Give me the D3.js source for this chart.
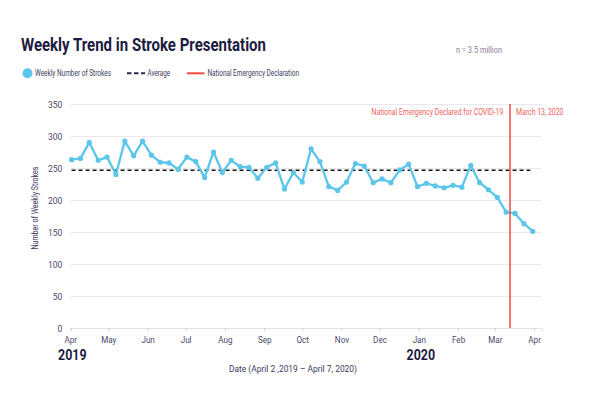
<!DOCTYPE html>
<html>
<head>
<meta charset="utf-8">
<script src="https://cdn.jsdelivr.net/npm/d3@7"></script>
<style>
  html, body { margin: 0; padding: 0; background: #fff; }
  svg { display: block; font-family: Roboto, "Noto Sans", sans-serif; }
</style>
</head>
<body>
<svg id="chart" width="590" height="393"></svg>
<script>
// ---------- data ----------
const startDate = "2019-04-02";        // first weekly observation
const weeklyStrokes = [
  263, 265, 290, 262, 267, 240, 292, 269, 292, 270,
  259, 258, 248, 267, 260, 235, 275, 243, 262, 252,
  251, 234, 251, 258, 217, 243, 228, 280, 260, 221,
  215, 228, 257, 253, 227, 233, 227, 247, 256, 221,
  226, 222, 219, 223, 220, 254, 227, 216, 204, 181,
  179, 163, 151
];
const averageValue = 246.5;
const emergencyDate = "2020-03-13";
const yTicks = [0, 50, 100, 150, 200, 250, 300, 350];
const yearLabels = [{ year: "2019", date: "2019-04-01" }, { year: "2020", date: "2020-01-01" }];
const domainDates = ["2019-04-01", "2020-04-07"];
const averageRange = ["2019-04-02", "2020-03-29"];

// ---------- setup ----------
const parse = d3.utcParse("%Y-%m-%d");
const t0 = parse(startDate);
const points = weeklyStrokes.map((v, i) => ({ date: d3.utcDay.offset(t0, i * 7), value: v }));

const svg = d3.select("#chart");
const W = 590, H = 393;
const margin = { left: 70.3, right: 48.3, top: 104, bottom: 65 };

const x = d3.scaleUtc().domain(domainDates.map(parse)).range([margin.left, W - margin.right]);
const y = d3.scaleLinear().domain([0, 350]).range([H - margin.bottom, margin.top]);

const navy = "#1c1b40";
const axisText = "#4a4868";
const blue = "#5bc6e9";
const red = "#ee4a42";

function fit(sel, w) {
  sel.attr("textLength", w).attr("lengthAdjust", "spacingAndGlyphs");
}
function condense(sel, f) {
  sel.each(function () {
    const l = this.getComputedTextLength();
    d3.select(this).attr("textLength", l * f).attr("lengthAdjust", "spacingAndGlyphs");
  });
}
// horizontally squeeze a text (placed at 0,0) to width w, start-anchored at (px, py)
function squeeze(sel, px, py, w) {
  sel.each(function () {
    const l = this.getComputedTextLength();
    d3.select(this).attr("transform", `translate(${px},${py}) scale(${w / l},1)`);
  });
}

// ---------- title & legend ----------
svg.append("text").attr("x", 21).attr("y", 50.5)
  .attr("font-size", 18.5).attr("font-weight", 700).attr("fill", navy)
  .text("Weekly Trend in Stroke Presentation").call(fit, 245);

svg.append("text").attr("x", 456).attr("y", 52.5)
  .attr("font-size", 9.5).attr("fill", "#8a7c9c")
  .text("n = 3.5 million").call(fit, 46);

const lg = svg.append("g");
lg.append("circle").attr("cx", 27.5).attr("cy", 73.3).attr("r", 5).attr("fill", blue);
lg.append("text").attr("x", 35).attr("y", 76.3).attr("font-size", 9).attr("fill", "#3b3a5c")
  .text("Weekly Number of Strokes").call(fit, 76);
lg.append("line").attr("x1", 127).attr("x2", 145).attr("y1", 73.3).attr("y2", 73.3)
  .attr("stroke", "#2a2950").attr("stroke-width", 2).attr("stroke-dasharray", "4.5,2.5");
lg.append("text").attr("x", 147.5).attr("y", 76.3).attr("font-size", 9).attr("fill", "#3b3a5c")
  .text("Average").call(fit, 22.5);
lg.append("line").attr("x1", 187).attr("x2", 204.5).attr("y1", 73.3).attr("y2", 73.3)
  .attr("stroke", red).attr("stroke-width", 2);
lg.append("text").attr("x", 207.5).attr("y", 76.3).attr("font-size", 9).attr("fill", "#3b3a5c")
  .text("National Emergency Declaration").call(fit, 91.5);

// ---------- grid & y axis ----------
const yAxis = svg.append("g").attr("transform", `translate(${margin.left},0)`)
  .call(d3.axisLeft(y).tickValues(yTicks).tickSize(-(W - margin.left - margin.right)).tickPadding(8));
yAxis.select(".domain").remove();
yAxis.selectAll(".tick line").attr("stroke", "#e9e9ee").attr("stroke-width", 1.2);
yAxis.selectAll(".tick text").attr("font-size", 9.5).attr("fill", axisText)
  .attr("font-family", "Roboto").attr("dy", "0.35em").call(condense, 0.9);

// ---------- x axis ----------
const xAxis = svg.append("g").attr("transform", `translate(0,${y(0)})`)
  .call(d3.axisBottom(x).ticks(d3.utcMonth.every(1)).tickFormat(d3.utcFormat("%b")).tickSize(3).tickPadding(5));
xAxis.select(".domain").attr("stroke", "#e2e2e8").attr("stroke-width", 1.2);
xAxis.selectAll(".tick line").attr("stroke", "#d4d4dc");
xAxis.selectAll(".tick text").attr("font-size", 9.5).attr("fill", axisText)
  .attr("font-family", "Roboto").call(condense, 0.85);

svg.append("g").selectAll("text").data(yearLabels).join("text")
  .attr("x", d => x(parse(d.date)) + 2).attr("y", 359.5).attr("text-anchor", "middle")
  .attr("font-size", 15).attr("font-weight", 700).attr("fill", navy)
  .text(d => d.year).call(fit, 28.5);

svg.append("text").attr("x", 293).attr("y", 372).attr("text-anchor", "middle")
  .attr("font-size", 9.5).attr("fill", "#3b3a5c")
  .text("Date (April 2 ,2019 \u2013 April 7, 2020)").call(fit, 128);

svg.append("text").attr("transform", `translate(38,208) rotate(-90)`).attr("text-anchor", "middle")
  .attr("font-size", 9.5).attr("fill", "#3b3a5c")
  .text("Number of Weekly Strokes").call(fit, 83);

// ---------- average ----------
svg.append("line")
  .attr("x1", x(parse(averageRange[0]))).attr("x2", x(parse(averageRange[1])))
  .attr("y1", y(averageValue)).attr("y2", y(averageValue))
  .attr("stroke", "#151515").attr("stroke-width", 1.5).attr("stroke-dasharray", "4,3");

// ---------- series ----------
const line = d3.line().x(d => x(d.date)).y(d => y(d.value));
svg.append("path").datum(points).attr("d", line)
  .attr("fill", "none").attr("stroke", blue).attr("stroke-width", 2.3).attr("stroke-linejoin", "round");
svg.append("g").selectAll("circle").data(points).join("circle")
  .attr("cx", d => x(d.date)).attr("cy", d => y(d.value)).attr("r", 2.6).attr("fill", blue);

// ---------- emergency line ----------
const ex = x(parse(emergencyDate));
svg.append("line").attr("x1", ex).attr("x2", ex).attr("y1", y(350)).attr("y2", y(0))
  .attr("stroke", red).attr("stroke-width", 1.5);
svg.append("text").attr("font-size", 9).attr("fill", "#f0605a")
  .text("National Emergency Declared for COVID-19").call(squeeze, ex - 6.5 - 132, 114.5, 132);
svg.append("text").attr("font-size", 9).attr("fill", "#f0605a")
  .text("March 13, 2020").call(squeeze, ex + 6, 114.5, 47.5);
</script>
</body>
</html>
